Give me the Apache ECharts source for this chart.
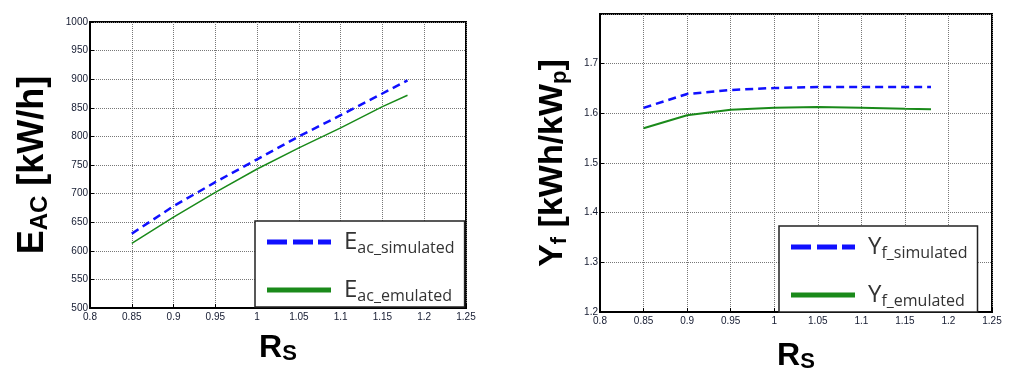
<!DOCTYPE html>
<html>
<head>
<meta charset="utf-8">
<script src="https://cdn.jsdelivr.net/npm/echarts@6/dist/echarts.min.js"></script>
<style>
  html, body { margin: 0; padding: 0; background: #fff; }
  #chart { width: 1012px; height: 383px; }
</style>
</head>
<body>
<div id="chart"></div>
<script>
// R_s values (x) shared by both panels
const rs = [0.85, 0.9, 0.95, 1.0, 1.05, 1.1, 1.15, 1.18]

// left panel: E_AC [kW/h]
const eacSimulated = [630, 678, 720, 760, 800, 837, 875, 898]
const eacEmulated = [613, 659, 702, 743, 780, 815, 852, 872]

// right panel: Y_f [kWh/kWp]
const yfSimulated = [1.611, 1.639, 1.647, 1.651, 1.653, 1.653, 1.653, 1.653]
const yfEmulated = [1.570, 1.596, 1.607, 1.611, 1.613, 1.611, 1.609, 1.608]

const pairs = (xs, ys) => xs.map((x, i) => [x, ys[i]])

// legend icons: thick bar, dashed or solid
const dashIcon = 'path://M0,0h20v5h-20z M26,0h20v5h-20z M51,0h13v5h-13z'
const solidIcon = 'path://M0,0h64v5h-64z'

const tickFont = { fontSize: 10, color: '#141a30', fontFamily: 'Liberation Sans', formatter: v => String(v) }
const titleRich = size => ({
  m: { fontSize: size, fontWeight: 'bold', color: '#000', fontFamily: 'Liberation Sans', lineHeight: size + 6 },
  s: { fontSize: Math.round(size * 0.66), fontWeight: 'bold', color: '#000', fontFamily: 'Liberation Sans', lineHeight: size + 6, padding: [Math.round(size * 0.38), 0, 0, 0] }
})
const xTitleRich = {
  m: { fontSize: 32, fontWeight: 'bold', color: '#000', fontFamily: 'Liberation Sans', lineHeight: 36 },
  s: { fontSize: 22, fontWeight: 'bold', color: '#000', fontFamily: 'Liberation Sans', lineHeight: 36, padding: [12, 0, 0, 0] }
}
const legendRich = {
  m: { fontSize: 24, color: '#333', fontFamily: 'Open Sans', lineHeight: 30, padding: [0, 0, 0, 8] },
  s: { fontSize: 16, color: '#333', fontFamily: 'Open Sans', lineHeight: 30, padding: [12, 0, 0, 0] }
}

const xAxisBase = (gi, gap) => ({
  type: 'value',
  gridIndex: gi,
  min: 0.8,
  max: 1.25,
  interval: 0.05,
  name: '{m|R}{s|S}',
  nameLocation: 'middle',
  nameGap: gap,
  nameTextStyle: { rich: xTitleRich },
  axisLine: { lineStyle: { color: '#000', width: 2 } },
  axisTick: { inside: true, length: 4, lineStyle: { color: '#000' } },
  axisLabel: Object.assign({ margin: 4 }, tickFont),
  splitLine: { lineStyle: { type: 'dotted', color: '#777', width: 1 } }
})

const legendBase = (left, top, names, labels) => ({
  left,
  top,
  orient: 'vertical',
  backgroundColor: '#fff',
  borderColor: '#222',
  borderWidth: 1.5,
  borderRadius: 0,
  padding: [7, 10, 3, 12],
  itemGap: 20,
  itemWidth: 64,
  itemHeight: 14,
  data: [
    { name: names[0], icon: dashIcon },
    { name: names[1], icon: solidIcon }
  ],
  formatter: n => n === names[0] ? labels[0] : labels[1],
  textStyle: { rich: legendRich }
})

const option = {
  animation: false,
  backgroundColor: '#fff',
  grid: [
    { left: 90, right: 546, top: 22, bottom: 75, show: true, borderColor: '#000', borderWidth: 2, backgroundColor: '#fff' },
    { left: 600, right: 20, top: 14, bottom: 71, show: true, borderColor: '#000', borderWidth: 2, backgroundColor: '#fff' }
  ],
  xAxis: [xAxisBase(0, 22), xAxisBase(1, 26)],
  yAxis: [
    {
      type: 'value',
      gridIndex: 0,
      min: 500,
      max: 1000,
      interval: 50,
      name: '{m|E}{s|AC}{m| [kW/h]}',
      nameLocation: 'middle',
      nameRotate: 90,
      nameGap: 36,
      nameTextStyle: { rich: titleRich(36) },
      axisLine: { lineStyle: { color: '#000', width: 2 } },
      axisTick: { inside: true, length: 4, lineStyle: { color: '#000' } },
      axisLabel: Object.assign({ margin: 2 }, tickFont),
      splitLine: { lineStyle: { type: 'dotted', color: '#777', width: 1 } }
    },
    {
      type: 'value',
      gridIndex: 1,
      min: 1.2,
      max: 1.8,
      interval: 0.1,
      name: '{m|Y}{s|f}{m| [kWh/kW}{s|p}{m|]}',
      nameLocation: 'middle',
      nameRotate: 90,
      nameGap: 27,
      nameTextStyle: { rich: titleRich(34) },
      axisLine: { lineStyle: { color: '#000', width: 2 } },
      axisTick: { inside: true, length: 4, lineStyle: { color: '#000' } },
      axisLabel: Object.assign({ margin: 2, showMaxLabel: false }, tickFont),
      splitLine: { lineStyle: { type: 'dotted', color: '#777', width: 1 } }
    }
  ],
  legend: [
    legendBase(255, 221, ['Eac_simulated', 'Eac_emulated'], ['{m|E}{s|ac_simulated}', '{m|E}{s|ac_emulated}']),
    legendBase(779, 226, ['Yf_simulated', 'Yf_emulated'], ['{m|Y}{s|f_simulated}', '{m|Y}{s|f_emulated}'])
  ],
  series: [
    {
      name: 'Eac_simulated', type: 'line', xAxisIndex: 0, yAxisIndex: 0, symbol: 'none',
      lineStyle: { color: '#1010ff', width: 2.5, type: [8, 5] }, itemStyle: { color: '#1010ff' },
      data: pairs(rs, eacSimulated)
    },
    {
      name: 'Eac_emulated', type: 'line', xAxisIndex: 0, yAxisIndex: 0, symbol: 'none',
      lineStyle: { color: '#1a8a1a', width: 1.5 }, itemStyle: { color: '#1a8a1a' },
      data: pairs(rs, eacEmulated)
    },
    {
      name: 'Yf_simulated', type: 'line', xAxisIndex: 1, yAxisIndex: 1, symbol: 'none',
      lineStyle: { color: '#1010ff', width: 2.5, type: [8, 5] }, itemStyle: { color: '#1010ff' },
      data: pairs(rs, yfSimulated)
    },
    {
      name: 'Yf_emulated', type: 'line', xAxisIndex: 1, yAxisIndex: 1, symbol: 'none',
      lineStyle: { color: '#1a8a1a', width: 2 }, itemStyle: { color: '#1a8a1a' },
      data: pairs(rs, yfEmulated)
    }
  ]
}

const chart = echarts.init(document.getElementById('chart'))
chart.setOption(option)
</script>
</body>
</html>
